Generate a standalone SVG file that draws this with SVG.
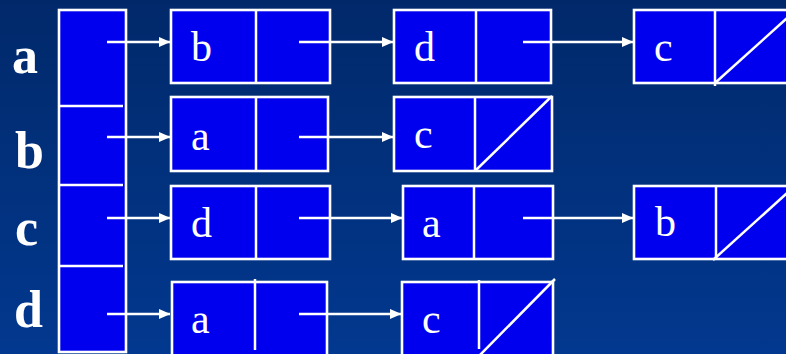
<svg xmlns="http://www.w3.org/2000/svg" width="786" height="354" viewBox="0 0 786 354">
<defs>
<linearGradient id="bg" x1="0" y1="0" x2="0" y2="1">
<stop offset="0" stop-color="#01296a"/>
<stop offset="1" stop-color="#02388f"/>
</linearGradient>
<marker id="ah" markerWidth="13" markerHeight="12" refX="11" refY="6" orient="auto" markerUnits="userSpaceOnUse">
<path d="M0,1 L11.5,6 L0,11 Z" fill="#ffffff"/>
</marker>
<style>
.box{fill:#0000ee;stroke:#ffffff;stroke-width:2.6}
.ln{stroke:#ffffff;stroke-width:2.5;fill:none}
.arr{stroke:#ffffff;stroke-width:2.5;fill:none;marker-end:url(#ah)}
.lbl{font-family:"Liberation Serif","Times New Roman",serif;font-size:42px;fill:#ffffff}
.hd{font-family:"Liberation Serif","Times New Roman",serif;font-size:52px;font-weight:bold;fill:#ffffff}
</style>
</defs>
<rect x="0" y="0" width="786" height="354" fill="url(#bg)"/>

<g id="labels">
<text class="hd" x="12" y="73">a</text>
<text class="hd" x="15" y="168">b</text>
<text class="hd" x="15" y="245">c</text>
<text class="hd" x="14" y="327">d</text>
</g>

<g id="head">
<rect class="box" x="59" y="10" width="67" height="342"/>
<line class="ln" x1="59" y1="106" x2="123" y2="106"/>
<line class="ln" x1="59" y1="185" x2="123" y2="185"/>
<line class="ln" x1="59" y1="266" x2="123" y2="266"/>
</g>

<g id="a1">
<rect class="box" x="171" y="10" width="159" height="73"/>
<line class="ln" x1="256" y1="10" x2="256" y2="83"/>
<text class="lbl" x="191" y="61">b</text>
</g>
<g id="a2">
<rect class="box" x="394" y="10" width="157" height="73"/>
<line class="ln" x1="476" y1="10" x2="476" y2="83"/>
<text class="lbl" x="414" y="61">d</text>
</g>
<g id="a3">
<rect class="box" x="634" y="10" width="162" height="73"/>
<line class="ln" x1="715" y1="10" x2="715" y2="86"/>
<line class="ln" x1="715" y1="83" x2="796" y2="10"/>
<text class="lbl" x="654" y="61">c</text>
</g>

<g id="b1">
<rect class="box" x="171" y="97" width="157" height="74"/>
<line class="ln" x1="256" y1="97" x2="256" y2="171"/>
<text class="lbl" x="191" y="150">a</text>
</g>
<g id="b2">
<rect class="box" x="394" y="97" width="158" height="74"/>
<line class="ln" x1="475" y1="97" x2="475" y2="171"/>
<line class="ln" x1="475" y1="171" x2="552" y2="96"/>
<text class="lbl" x="414" y="148">c</text>
</g>

<g id="c1">
<rect class="box" x="171" y="186" width="159" height="73"/>
<line class="ln" x1="256" y1="186" x2="256" y2="259"/>
<text class="lbl" x="191" y="237">d</text>
</g>
<g id="c2">
<rect class="box" x="403" y="186" width="150" height="73"/>
<line class="ln" x1="474" y1="186" x2="474" y2="259"/>
<text class="lbl" x="422" y="237">a</text>
</g>
<g id="c3">
<rect class="box" x="634" y="186" width="162" height="73"/>
<line class="ln" x1="716" y1="186" x2="716" y2="259"/>
<line class="ln" x1="713" y1="260" x2="796" y2="185"/>
<text class="lbl" x="655" y="236">b</text>
</g>

<g id="d1">
<rect class="box" x="172" y="282" width="155" height="80"/>
<line class="ln" x1="255" y1="279" x2="255" y2="350"/>
<text class="lbl" x="191" y="333">a</text>
</g>
<g id="d2">
<rect class="box" x="402" y="282" width="151" height="80"/>
<line class="ln" x1="479" y1="280" x2="479" y2="349"/>
<line class="ln" x1="479" y1="356" x2="555" y2="279"/>
<text class="lbl" x="422" y="333">c</text>
</g>

<g id="connectors">
<line class="arr" x1="107" y1="42" x2="170" y2="42"/>
<line class="arr" x1="107" y1="137" x2="170" y2="137"/>
<line class="arr" x1="107" y1="218" x2="170" y2="218"/>
<line class="arr" x1="107" y1="314" x2="170" y2="314"/>
<line class="arr" x1="299" y1="42" x2="393" y2="42"/>
<line class="arr" x1="523" y1="42" x2="633" y2="42"/>
<line class="arr" x1="299" y1="137" x2="393" y2="137"/>
<line class="arr" x1="299" y1="218" x2="402" y2="218"/>
<line class="arr" x1="523" y1="218" x2="633" y2="218"/>
<line class="arr" x1="299" y1="314" x2="401" y2="314"/>
</g>
</svg>
